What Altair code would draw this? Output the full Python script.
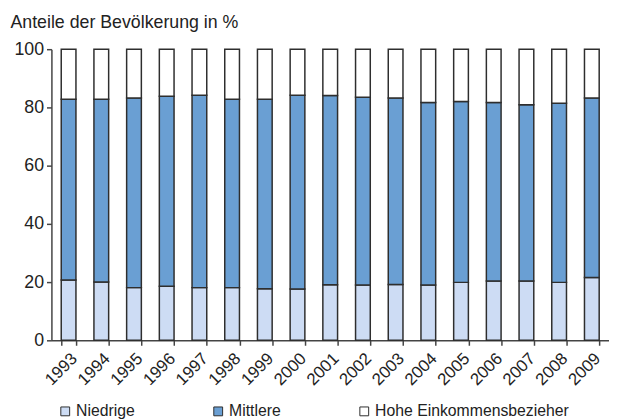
import altair as alt
import pandas as pd

years = [str(y) for y in range(1993, 2010)]
niedrige = [20.7, 20.0, 18.1, 18.6, 18.1, 18.1, 17.7, 17.6, 19.1, 19.0, 19.2, 19.0, 19.9, 20.4, 20.4, 19.9, 21.6]
mittlere_top = [82.8, 82.8, 83.2, 83.8, 84.2, 82.8, 82.8, 84.2, 84.1, 83.5, 83.2, 81.7, 82.0, 81.7, 80.9, 81.4, 83.2]
categories = ["Niedrige", "Mittlere", "Hohe Einkommensbezieher"]
colors = ["#cddcf4", "#6a9fd3", "#ffffff"]

rows = []
for i, y in enumerate(years):
    low = niedrige[i]
    mid = round(mittlere_top[i] - low, 2)
    high = round(100 - mittlere_top[i], 2)
    for k, (c, v) in enumerate(zip(categories, [low, mid, high])):
        rows.append({"Jahr": y, "Gruppe": c, "Wert": v, "ord": k})
df = pd.DataFrame(rows)

FONT = "Liberation Sans"

chart = alt.Chart(df).mark_bar(stroke="#2e2e2e", strokeWidth=1.5).encode(
    x=alt.X("Jahr:N", sort=years,
            scale=alt.Scale(paddingInner=0.55, paddingOuter=0.3),
            axis=alt.Axis(title=None, labelAngle=-45, labelFontSize=17, labelColor="#222",
                          labelFont=FONT, tickBand="extent", tickSize=5, tickColor="#444",
                          domainColor="#444", domainWidth=1.5, tickWidth=1.5, labelPadding=5)),
    y=alt.Y("Wert:Q", stack="zero", scale=alt.Scale(domain=[0, 100], nice=False),
            axis=alt.Axis(values=[0, 20, 40, 60, 80, 100], title="Anteile der Bevölkerung in %",
                          titleAngle=0, titleAlign="left", titleBaseline="middle",
                          titleX=-42, titleY=-27, titleFont=FONT, titleFontSize=18,
                          titleFontWeight="normal", titleColor="#222",
                          labelFontSize=18, labelFont=FONT, labelColor="#222",
                          tickSize=5, tickColor="#444", tickWidth=1.5, domainColor="#444",
                          domainWidth=1.5, grid=False, labelPadding=3)),
    color=alt.Color("Gruppe:N", sort=categories,
                    scale=alt.Scale(domain=categories, range=colors),
                    legend=alt.Legend(title=None, orient="none", direction="horizontal",
                                      legendX=6, legendY=359, symbolType="square",
                                      symbolSize=80, symbolStrokeColor="#2e2e2e",
                                      symbolStrokeWidth=1, symbolOpacity=1,
                                      labelFont=FONT, labelFontSize=16, labelColor="#222",
                                      columnPadding=76, labelOffset=3, labelLimit=300)),
    order=alt.Order("ord:Q"),
).properties(
    width=565, height=295,
    autosize=alt.AutoSizeParams(type="none"),
    padding={"left": 44, "top": 39, "right": 0, "bottom": 78},
).configure_view(stroke=None)

chart.save("out.html", embed_options={"renderer": "svg", "actions": False})
